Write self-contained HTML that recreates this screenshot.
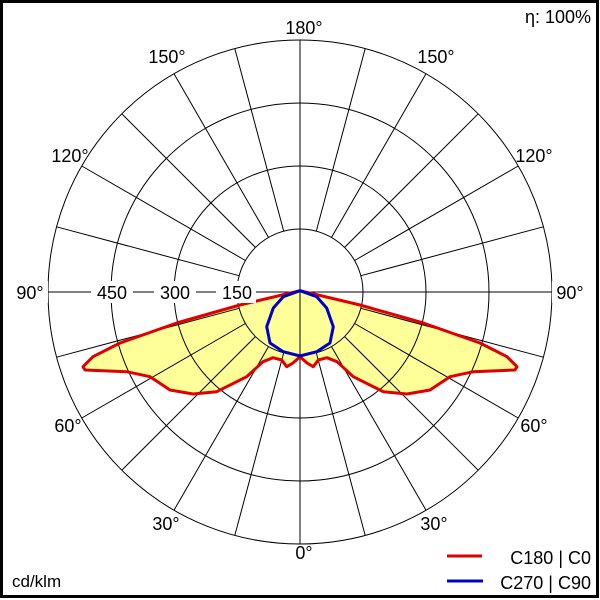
<!DOCTYPE html>
<html><head><style>html,body{margin:0;padding:0;background:#fff}svg{display:block}text{font-family:"Liberation Sans",Arial,sans-serif;font-size:18px;fill:#000}</style></head>
<body>
<svg width="600" height="600" viewBox="0 0 600 600" xmlns="http://www.w3.org/2000/svg">
<defs>
<path id="red" d="M300,290.7 L256.7,301 L240,305 L176.7,323 L120,343 L93,356.7 L83,366.7 L85,370 L126.7,371.7 L150,376.7 L170,390 L193,394 L216.7,391.7 L246.7,376.7 L263,361.7 L273,357.7 L281.7,360 L286.7,366.7 L293,363 L300,356.7 L307,363 L313.3,366.7 L318.3,360 L327,357.7 L337,361.7 L353.3,376.7 L383.3,391.7 L407,394 L430,390 L450,376.7 L473.3,371.7 L515,370 L517,366.7 L507,356.7 L480,343 L423.3,323 L360,305 L343.3,301 Z"/>
</defs>
<rect x="1.5" y="1.5" width="596" height="595" fill="#fff" stroke="#000" stroke-width="3"/>
<use href="#red" fill="#ffff99"/>
<g fill="none" stroke="#000" stroke-width="1">
<circle cx="300" cy="292" r="63"/>
<circle cx="300" cy="292" r="126"/>
<circle cx="300" cy="292" r="189"/>
<circle cx="300" cy="292" r="252"/>
<line x1="300" y1="40" x2="300" y2="544"/>
<line x1="48" y1="292" x2="552" y2="292"/>
<g id="sp">
<line x1="316.3" y1="231.1" x2="365.2" y2="48.6"/>
<line x1="331.5" y1="237.4" x2="426" y2="73.8"/>
<line x1="344.5" y1="247.5" x2="478.2" y2="113.8"/>
<line x1="354.6" y1="260.5" x2="518.2" y2="166"/>
<line x1="360.9" y1="275.7" x2="543.4" y2="226.8"/>
<line x1="360.9" y1="308.3" x2="543.4" y2="357.2"/>
<line x1="354.6" y1="323.5" x2="518.2" y2="418"/>
<line x1="344.5" y1="336.5" x2="478.2" y2="470.2"/>
<line x1="331.5" y1="346.6" x2="426" y2="510.2"/>
<line x1="316.3" y1="352.9" x2="365.2" y2="535.4"/>
</g>
<use href="#sp" transform="translate(600,0) scale(-1,1)"/>
</g>
<use href="#red" fill="none" stroke="#e00000" stroke-width="3" stroke-linejoin="round"/>
<path d="M300,290.7 L316.7,296.7 L326.7,308 L333.3,326.7 L330,343 L316.7,351.7 L300,356 L283.3,351.7 L270,343 L266.7,326.7 L273.3,308 L283.3,296.7 Z" fill="none" stroke="#0000c8" stroke-width="3" stroke-linejoin="round"/>
<g text-anchor="middle">
<rect x="216" y="281" width="40" height="22" fill="#fff"/>
<rect x="154" y="281" width="42" height="22" fill="#fff"/>
<rect x="91" y="281" width="42" height="22" fill="#fff"/>
<rect x="12" y="281" width="36" height="22" fill="#fff"/>
<rect x="552" y="281" width="36" height="22" fill="#fff"/>
<text x="237" y="299">150</text>
<text x="175" y="299">300</text>
<text x="112" y="299">450</text>
<text x="304" y="34">180°</text>
<text x="167" y="63">150°</text>
<text x="436" y="63">150°</text>
<text x="70" y="162">120°</text>
<text x="534" y="162">120°</text>
<text x="30" y="299">90°</text>
<text x="570" y="299">90°</text>
<text x="68" y="432">60°</text>
<text x="534" y="432">60°</text>
<text x="166" y="530">30°</text>
<text x="434" y="530">30°</text>
<text x="304" y="559">0°</text>
</g>
<text x="591" y="23" text-anchor="end">η: 100%</text>
<text x="12" y="587" style="font-size:17px">cd/klm</text>
<line x1="447" y1="556" x2="482" y2="556" stroke="#e00000" stroke-width="3"/>
<line x1="447" y1="581" x2="483" y2="581" stroke="#0000c8" stroke-width="3"/>
<text x="591" y="564" text-anchor="end">C180 | C0</text>
<text x="591" y="589" text-anchor="end">C270 | C90</text>
</svg>
</body></html>
